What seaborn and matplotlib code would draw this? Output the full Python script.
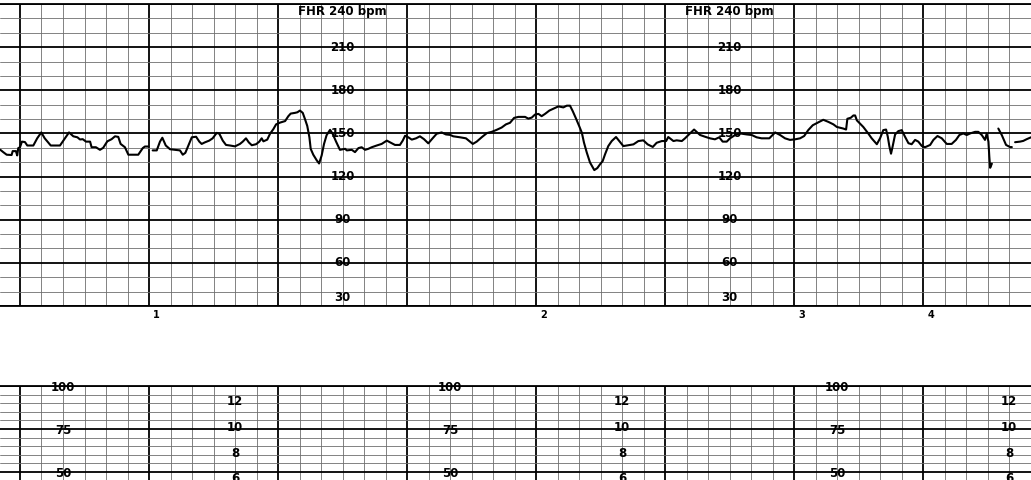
#%% библиотеки
import numpy as np
import pandas as pd
import seaborn as sb
import matplotlib
matplotlib.use("Agg")
import matplotlib.pyplot as plt

#%% данные: время в секундах от первой толстой линии, ЧСС в уд/мин (nan = разрыв записи)
t_sec = [-9.3, -7.8, -6.2, -3.9, -3.4, -1.9, -1.3, -0.8, 0.0, 0.9, 2.3, 3.4, 6.2, 8.0, 9.9, 11.5,
         14.3, 18.6, 20.9, 22.8, 24.8, 26.7, 27.9, 29.2, 30.7, 32.6, 33.3, 35.3, 37.2, 38.7, 40.6,
         42.6, 44.2, 45.7, 46.8, 48.8, 50.4, 55.0, 57.1, 58.1, 59.7, 60.5,
         61.7, 63.6, 65.1, 66.2, 67.8, 69.8, 72.1, 74.4, 75.7, 76.9, 78.3, 79.9, 81.9, 83.4, 84.5,
         86.0, 88.0, 89.6, 91.5, 92.7, 94.3, 95.8, 97.7, 100.0, 102.3, 103.6, 105.1, 106.4, 107.8,
         109.8, 111.3, 112.4, 113.2, 115.0, 116.3, 117.8, 119.1, 120.9, 123.3, 124.8, 125.9, 127.9,
         129.0, 130.2, 131.5, 132.6, 133.6, 134.6, 135.2, 136.4, 138.0, 139.1, 140.3, 141.4, 142.6,
         144.2, 145.4, 147.0, 148.8, 151.2, 152.0, 154.3, 155.8, 157.4, 158.9, 160.5, 162.0, 163.6,
         165.9, 168.2, 170.6, 172.1, 174.4, 176.7, 178.0, 179.1, 180.6, 182.2, 184.2, 186.0, 187.9,
         189.9, 191.9, 193.8, 196.1, 198.1, 200.0, 201.5, 204.7, 207.4, 209.3, 210.6, 212.4, 214.7,
         217.1, 219.4, 221.7, 224.0, 226.0, 227.9, 229.8, 231.8, 234.9, 236.4, 238.0, 239.5, 241.1,
         242.6, 244.2, 246.2, 248.8, 250.4, 252.7, 254.3, 255.8, 257.1, 258.6, 260.1, 261.3, 262.3,
         263.6, 265.1, 267.1, 268.5, 269.8, 271.0, 272.1, 273.6, 275.2, 277.2, 278.7, 280.6, 282.9,
         285.3, 287.6, 289.9, 291.9, 294.3, 296.1, 298.5, 300.5, 301.5, 303.9, 305.4, 307.8, 309.3,
         311.6, 313.5, 314.7, 316.3, 318.6, 320.9, 323.2, 325.2, 326.8, 328.7, 330.2, 332.6, 334.9,
         338.0, 340.3, 342.6, 344.9, 348.5, 351.2, 353.5, 355.8, 358.1, 360.5, 362.8, 364.7, 366.6,
         368.7, 370.8, 373.6, 376.0, 378.3, 379.9, 382.9, 384.2, 384.8, 386.4, 387.6, 388.4, 389.2,
         390.7, 392.2, 394.5, 396.1, 398.5, 400.0, 401.5, 402.8, 403.6, 404.3, 405.1, 405.9, 407.0,
         408.5, 410.1, 411.6, 413.2, 414.7, 416.3, 417.8, 419.4, 420.9, 423.3, 424.8, 426.7, 428.7,
         431.0, 433.3, 435.3, 436.9, 438.7, 440.3, 441.9, 444.2, 445.7, 447.3, 448.8, 449.6, 450.4,
         450.8, 451.2, 452.0, 453.5,
         455.0, 456.6, 458.6, 460.5, 461.3, 462.0,
         462.8, 465.1, 466.6, 468.2, 470.2]
fhr = [138.8, 137.0, 135.2, 135.0, 137.7, 137.7, 134.7, 139.8, 140.4, 144.3, 144.0, 141.6, 141.6, 146.6, 150.7, 146.6,
       141.6, 141.6, 146.6, 150.7, 148.0, 147.3, 145.8, 146.0, 144.3, 144.3, 140.4, 140.4, 138.6, 140.0, 144.5,
       146.0, 148.0, 147.6, 142.7, 140.4, 135.2, 135.2, 139.8, 140.9, 140.9, np.nan,
       138.2, 138.2, 144.3, 147.0, 141.6, 139.0, 138.6, 138.2, 135.2, 136.5, 141.6, 147.3, 147.7, 144.3, 142.7,
       143.8, 145.0, 146.6, 150.4, 149.8, 145.0, 142.0, 141.6, 141.0, 142.7, 144.3, 146.6, 143.8, 141.8,
       142.5, 144.3, 146.6, 144.5, 145.7, 149.8, 152.9, 156.3, 157.5, 158.6, 162.0, 163.8, 164.3,
       164.7, 165.9, 164.3, 159.7, 155.2, 147.3, 139.3, 135.2, 131.3, 129.1, 134.7, 142.7, 148.8,
       152.5, 149.8, 144.3, 138.6, 139.3, 138.2, 138.6, 137.0, 139.8, 140.4, 138.6, 139.3, 140.4,
       141.6, 142.7, 145.0, 143.8, 142.0, 142.0, 145.0, 148.4, 147.3, 145.7, 146.6, 148.0, 146.0,
       143.1, 146.6, 149.8, 150.7, 149.3, 149.0, 148.0, 147.3, 146.6, 144.3, 142.7, 144.3, 147.3,
       150.2, 151.1, 152.5, 154.1, 156.3, 157.4, 160.8, 161.5, 161.5, 160.3, 161.0, 163.1, 163.6,
       162.0, 163.6, 165.9, 167.7, 168.8, 168.1, 169.3, 169.3, 165.4, 160.3, 155.0, 150.5, 143.6,
       136.7, 129.8, 124.5, 125.9, 128.6, 130.8, 135.5, 141.2, 144.7, 147.5, 144.7, 141.2, 141.8,
       142.4, 144.7, 145.2, 142.4, 140.6, 143.5, 144.7, 144.7, 147.5, 144.7, 145.2, 144.7, 146.6,
       150.0, 152.7, 151.1, 148.9, 147.7, 146.6, 145.9, 147.3, 144.3, 144.3, 146.6, 148.9, 150.0,
       149.3, 148.9, 147.3, 146.6, 146.6, 150.7, 148.9, 146.6, 145.5, 145.9, 146.6, 148.2, 152.3,
       155.7, 157.3, 159.5, 158.0, 156.3, 154.5, 153.4, 152.7, 160.2, 160.9, 162.5, 162.5, 159.1,
       156.8, 154.5, 150.0, 146.6, 142.5, 146.6, 152.3, 152.7, 147.7, 141.3, 135.9, 141.3, 149.3,
       151.6, 152.3, 147.7, 143.2, 142.5, 145.5, 144.3, 141.3, 140.4, 142.0, 145.5, 148.2, 146.6,
       142.7, 142.7, 145.5, 148.9, 150.0, 148.9, 150.0, 151.1, 151.1, 148.9, 145.5, 149.8, 144.3,
       134.1, 126.1, 129.0, np.nan,
       153.4, 148.9, 142.0, 140.5, 140.5, np.nan,
       143.9, 144.3, 144.8, 146.0, 147.3]

# подписи на бумаге
fhr_labels = [210, 180, 150, 120, 90, 60, 30]
fhr_label_cols = [150, 330]           # с
uc_labels = [100, 75, 50]             # мм рт.ст.
uc_label_cols = [20, 200, 380]
kpa_labels = [12, 10, 8, 6]           # кПа
kpa_label_cols = [100, 280, 460]
minute_marks = [1, 2, 3, 4]
minute_pos = [60, 240, 360, 420]

#%% собираем таблицу, разрывы -> отдельные куски
df = pd.DataFrame({"t": t_sec, "fhr": fhr})
df["seg"] = df["fhr"].isna().cumsum()
df = df.dropna()

sb.set_style("white")
plt.rcParams["font.family"] = ["DejaVu Sans"]
plt.rcParams["text.color"] = "black"

fig = plt.figure(figsize=(10.31, 4.8), dpi=100)
ax = fig.add_axes([0, 1 - 306 / 480, 1, 302 / 480])
ax2 = fig.add_axes([0, 1 - 558 / 480, 1, 172 / 480])
xlim = (-9.3, 470.2)


def paper(a, ylim, major, minor):
    a.set_xlim(xlim)
    a.set_ylim(ylim)
    a.set_xticks(np.arange(0, 480, 60))
    a.set_xticks(np.arange(-0, 480, 10), minor=True)
    a.set_yticks(np.arange(ylim[0], ylim[1] + 1, major))
    a.set_yticks(np.arange(ylim[0], ylim[1] + 1, minor), minor=True)
    a.grid(which="major", color="black", lw=1.3)
    a.grid(which="minor", color="#6e6e6e", lw=0.6)
    a.set_axisbelow(True)
    a.tick_params(which="both", length=0, labelbottom=False, labelleft=False)
    for s in ["left", "right"]:
        a.spines[s].set_visible(False)
    for s in ["top", "bottom"]:
        a.spines[s].set_linewidth(1.3)
        a.spines[s].set_color("black")
    a.set_xlabel("")
    a.set_ylabel("")


#%% ЧСС плода
sb.lineplot(data=df, x="t", y="fhr", units="seg", estimator=None, sort=False,
            color="black", lw=1.5, ax=ax)
paper(ax, (30, 240), 30, 10)
for c in fhr_label_cols:
    ax.text(c, 235, "FHR 240 bpm", ha="center", va="center", fontsize=8.5, fontweight="bold")
    for v in fhr_labels:
        ax.text(c, v if v > 30 else 36, str(v), ha="center", va="center",
                fontsize=8.5, fontweight="bold")
for m, p in zip(minute_marks, minute_pos):
    ax.text(p + 2, 23.5, str(m), ha="left", va="center", fontsize=7,
            fontweight="bold", clip_on=False)

#%% схватки
paper(ax2, (0, 100), 25, 5)
for c in uc_label_cols:
    for v in uc_labels:
        ax2.text(c, v - 1, str(v), ha="center", va="center", fontsize=8.5, fontweight="bold")
for c in kpa_label_cols:
    for v in kpa_labels:
        ax2.text(c, v * 7.5 + 1, str(v), ha="center", va="center", fontsize=8.5, fontweight="bold")

fig.savefig("out.png", dpi=100)
